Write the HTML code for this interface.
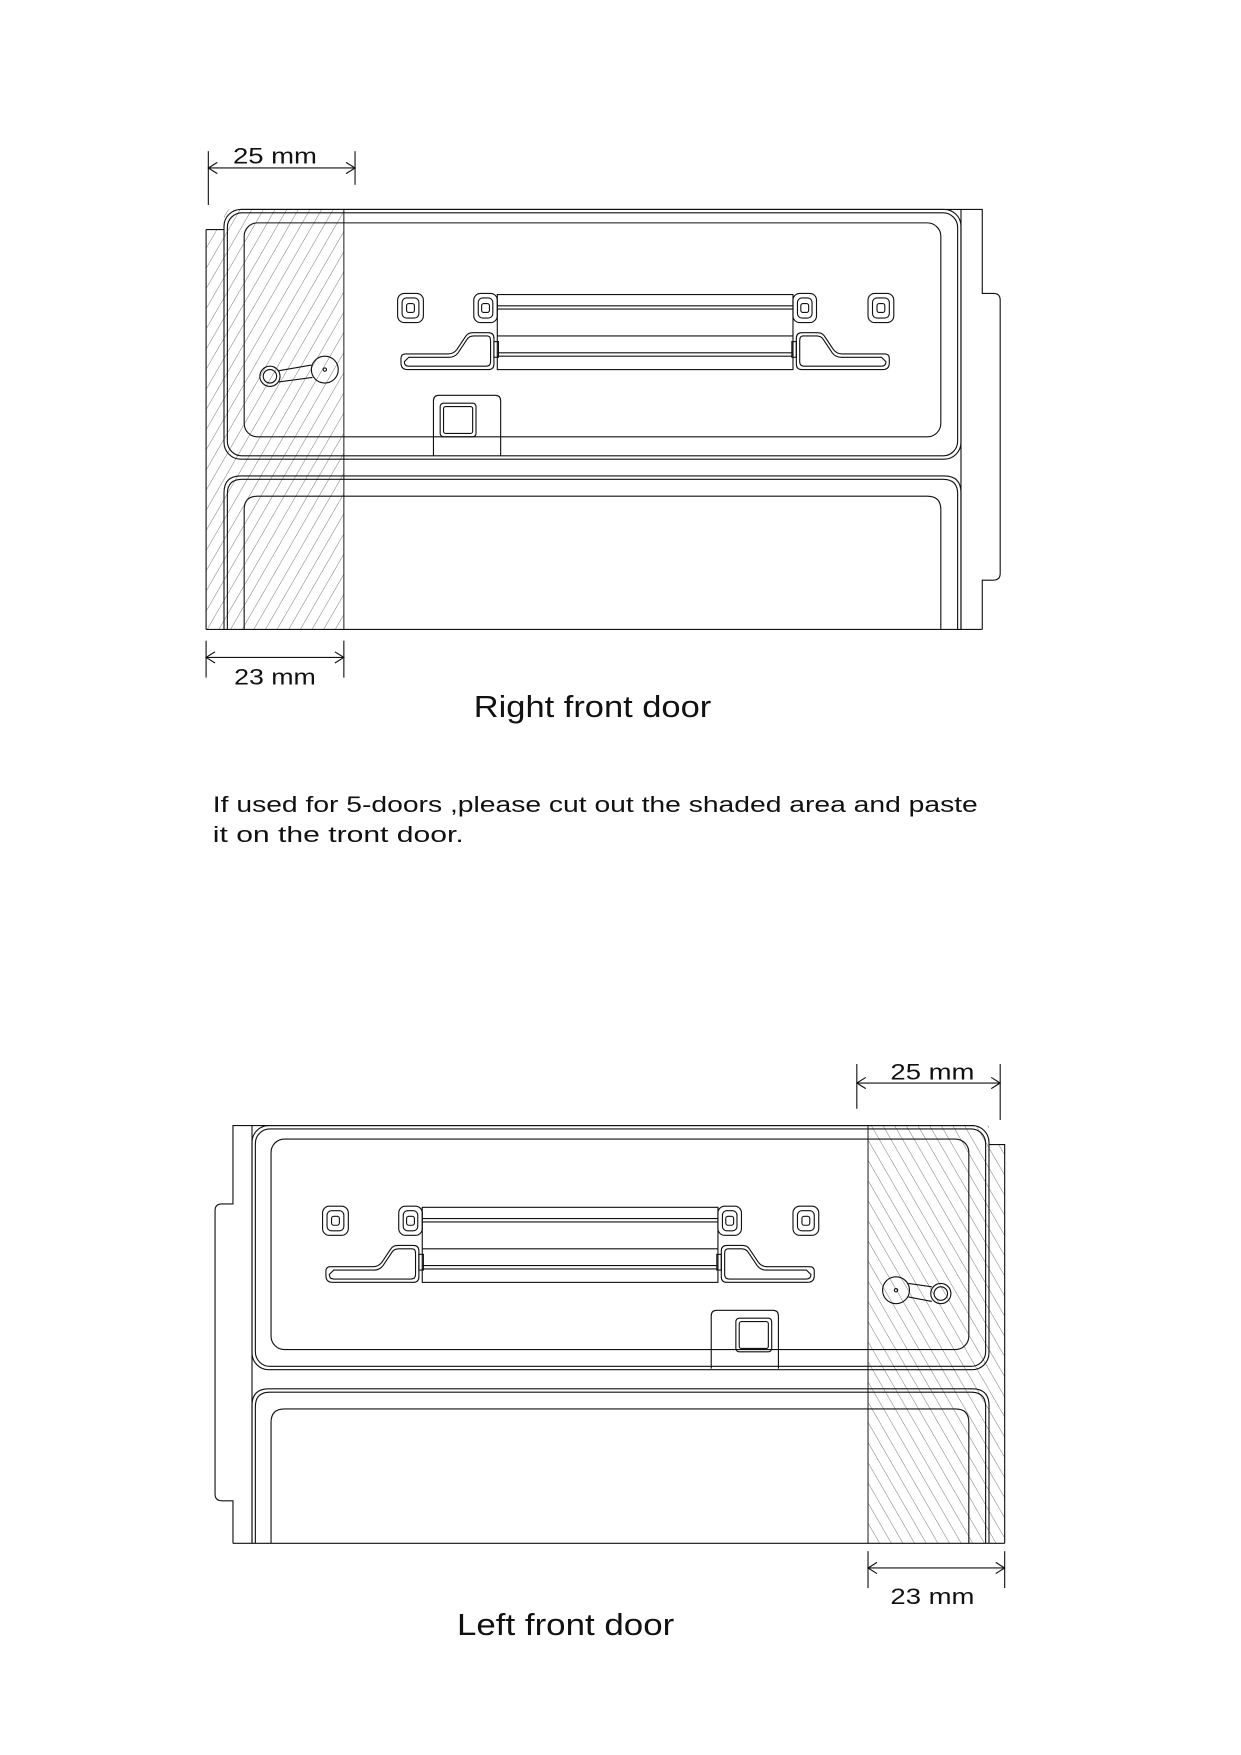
<!DOCTYPE html>
<html><head><meta charset="utf-8"><style>
html,body{margin:0;padding:0;background:#fff;}
svg{display:block;}
text{font-family:"Liberation Sans",sans-serif;fill:#111;}
</style></head><body>
<svg width="1241" height="1755" viewBox="0 0 1108 1567" preserveAspectRatio="none" xmlns="http://www.w3.org/2000/svg">
<defs>
<pattern id="h1" width="9" height="9" patternUnits="userSpaceOnUse" patternTransform="rotate(30)">
<line x1="0" y1="0" x2="0" y2="9" stroke="#555" stroke-width="0.7"/></pattern>
<pattern id="h2" width="9" height="9" patternUnits="userSpaceOnUse" patternTransform="rotate(-30)">
<line x1="0" y1="0" x2="0" y2="9" stroke="#555" stroke-width="0.7"/></pattern>
<g id="handle" fill="none" stroke="#111" stroke-width="1">
  <rect x="355" y="262" width="23" height="26" rx="6"/><rect x="359" y="266" width="15" height="18" rx="4"/><rect x="363" y="271" width="7" height="8" rx="2"/>
  <rect x="775" y="262" width="23" height="26" rx="6"/><rect x="779" y="266" width="15" height="18" rx="4"/><rect x="783" y="271" width="7" height="8" rx="2"/>
  <rect x="423" y="262" width="21" height="26" rx="6"/><rect x="427" y="266" width="13" height="18" rx="4"/><rect x="430" y="271" width="7" height="8" rx="2"/>
  <rect x="708" y="262" width="21" height="26" rx="6"/><rect x="712" y="266" width="13" height="18" rx="4"/><rect x="715" y="271" width="7" height="8" rx="2"/>
  <rect x="444" y="263" width="264" height="67"/>
  <line x1="444" y1="273" x2="708" y2="273"/><line x1="444" y1="276" x2="708" y2="276"/>
  <line x1="444" y1="300" x2="708" y2="300"/>
  <line x1="444" y1="315" x2="708" y2="315"/><line x1="444" y1="318" x2="708" y2="318"/>
  <path d="M362 316 H400 Q405 316 408 312 L416 300 Q418 297 422 297 H436 Q441 297 441 302 V325 Q441 330 436 330 H364 Q358 330 358 324 V320 Q358 316 362 316 Z"/>
  <path d="M365 319 H401 Q406 319 409 315 L417 303 Q419 300 423 300 H435 Q438 300 438 304 V323 Q438 327 434 327 H365 Q361 327 361 323 Z"/>
  <rect x="441" y="305" width="4" height="14"/>
  <path d="M790 316 H752 Q747 316 744 312 L736 300 Q734 297 730 297 H716 Q711 297 711 302 V325 Q711 330 716 330 H788 Q794 330 794 324 V320 Q794 316 790 316 Z"/>
  <path d="M787 319 H751 Q746 319 743 315 L735 303 Q733 300 729 300 H717 Q714 300 714 304 V323 Q714 327 718 327 H787 Q791 327 791 323 Z"/>
  <rect x="707" y="305" width="4" height="14"/>
</g>
</defs>

<!-- TOP DIAGRAM -->
<g stroke="#111" stroke-width="1" fill="none">
  <line x1="186" y1="135" x2="186" y2="183"/><line x1="317" y1="135" x2="317" y2="165"/>
  <line x1="186" y1="150" x2="317" y2="150"/>
  <path d="M194 145 L186 150 L194 155 M309 145 L317 150 L309 155"/>
</g>
<text x="208" y="146" font-size="20" textLength="75" lengthAdjust="spacingAndGlyphs">25 mm</text>
<rect x="184" y="205" width="16" height="357" fill="url(#h1)"/>
<rect x="200" y="187" width="107" height="375" fill="url(#h1)"/>
<g stroke="#111" stroke-width="1" fill="none">
  <line x1="184" y1="205" x2="184" y2="562"/><line x1="184" y1="205" x2="200" y2="205"/>
  <line x1="307" y1="187" x2="307" y2="562" stroke="#333"/>
  <path d="M215 187 H877 V262 H887 Q893 262 893 268 V512 Q893 518 887 518 H877 V562"/>
  <line x1="858" y1="187" x2="858" y2="562"/>
  <line x1="184" y1="562" x2="877" y2="562"/>
  <rect x="200" y="187" width="658" height="223" rx="15"/>
  <rect x="203" y="190" width="652" height="217" rx="13"/>
  <rect x="218" y="199" width="622" height="191" rx="12"/>
  <path d="M200 562 V440 Q200 425 215 425 H843 Q858 425 858 440 V562"/>
  <path d="M203 562 V441 Q203 428 216 428 H842 Q855 428 855 441 V562"/>
  <path d="M218 562 V455 Q218 443 230 443 H828 Q840 443 840 455 V562"/>
  <use href="#handle"/>
  <path d="M387 407 V358 Q387 353 392 353 H442 Q447 353 447 358 V407"/>
  <rect x="393" y="360" width="32" height="30" rx="3"/>
  <rect x="396" y="363" width="26" height="24" rx="2"/>
  <circle cx="241" cy="336" r="9"/><circle cx="241" cy="336" r="6"/>
  <circle cx="290" cy="330" r="12"/><circle cx="290" cy="330" r="1.5"/>
  <path d="M249 331 L278 326 M249 341 L279 337"/>
  <line x1="184" y1="572" x2="184" y2="605"/><line x1="307" y1="572" x2="307" y2="605"/>
  <line x1="184" y1="587" x2="307" y2="587"/>
  <path d="M192 582 L184 587 L192 592 M299 582 L307 587 L299 592"/>
</g>
<text x="209" y="611" font-size="20" textLength="73" lengthAdjust="spacingAndGlyphs">23 mm</text>
<text x="423" y="640" font-size="27" textLength="212" lengthAdjust="spacingAndGlyphs">Right front door</text>

<text x="190" y="725" font-size="19.5" textLength="683" lengthAdjust="spacingAndGlyphs">If  used for 5-doors ,please cut out the shaded area and paste</text>
<text x="190" y="752" font-size="19.5" textLength="224" lengthAdjust="spacingAndGlyphs">it on the tront door.</text>

<!-- BOTTOM DIAGRAM -->
<g stroke="#111" stroke-width="1" fill="none">
  <line x1="765" y1="950" x2="765" y2="990"/><line x1="893" y1="950" x2="893" y2="1000"/>
  <line x1="765" y1="967" x2="893" y2="967"/>
  <path d="M773 962 L765 967 L773 972 M885 962 L893 967 L885 972"/>
</g>
<text x="795" y="964" font-size="20" textLength="75" lengthAdjust="spacingAndGlyphs">25 mm</text>
<rect x="775" y="1005" width="108" height="373" fill="url(#h2)"/>
<rect x="883" y="1022" width="14" height="356" fill="url(#h2)"/>
<g stroke="#111" stroke-width="1" fill="none">
  <line x1="775" y1="1005" x2="775" y2="1378" stroke="#333"/>
  <path d="M883 1022 H897 V1378"/>
  <path d="M870 1005 H208 V1075 H198 Q192 1075 192 1081 V1334 Q192 1340 198 1340 H208 V1378"/>
  <line x1="225" y1="1005" x2="225" y2="1378"/>
  <line x1="208" y1="1378" x2="897" y2="1378"/>
  <rect x="225" y="1005" width="658" height="218" rx="15"/>
  <rect x="228" y="1008" width="652" height="212" rx="13"/>
  <rect x="242" y="1017" width="623" height="188" rx="12"/>
  <path d="M225 1378 V1255 Q225 1240 240 1240 H868 Q883 1240 883 1255 V1378"/>
  <path d="M228 1378 V1256 Q228 1243 241 1243 H867 Q880 1243 880 1256 V1378"/>
  <path d="M242 1378 V1270 Q242 1258 254 1258 H853 Q865 1258 865 1270 V1378"/>
  <use href="#handle" transform="translate(-67,815)"/>
  <path d="M635 1222 V1175 Q635 1170 640 1170 H690 Q695 1170 695 1175 V1222"/>
  <rect x="657" y="1177" width="32" height="30" rx="3"/>
  <rect x="660" y="1180" width="26" height="24" rx="2"/>
  <circle cx="800" cy="1152" r="12"/><circle cx="800" cy="1152" r="1.5"/>
  <circle cx="840" cy="1155" r="9"/><circle cx="840" cy="1155" r="6"/>
  <path d="M811 1146 L832 1149 M811 1158 L832 1162"/>
  <line x1="775" y1="1385" x2="775" y2="1418"/><line x1="897" y1="1385" x2="897" y2="1418"/>
  <line x1="775" y1="1400" x2="897" y2="1400"/>
  <path d="M783 1395 L775 1400 L783 1405 M889 1395 L897 1400 L889 1405"/>
</g>
<text x="795" y="1432" font-size="20" textLength="75" lengthAdjust="spacingAndGlyphs">23 mm</text>
<text x="408" y="1460" font-size="27" textLength="194" lengthAdjust="spacingAndGlyphs">Left front door</text>
</svg>
</body></html>
